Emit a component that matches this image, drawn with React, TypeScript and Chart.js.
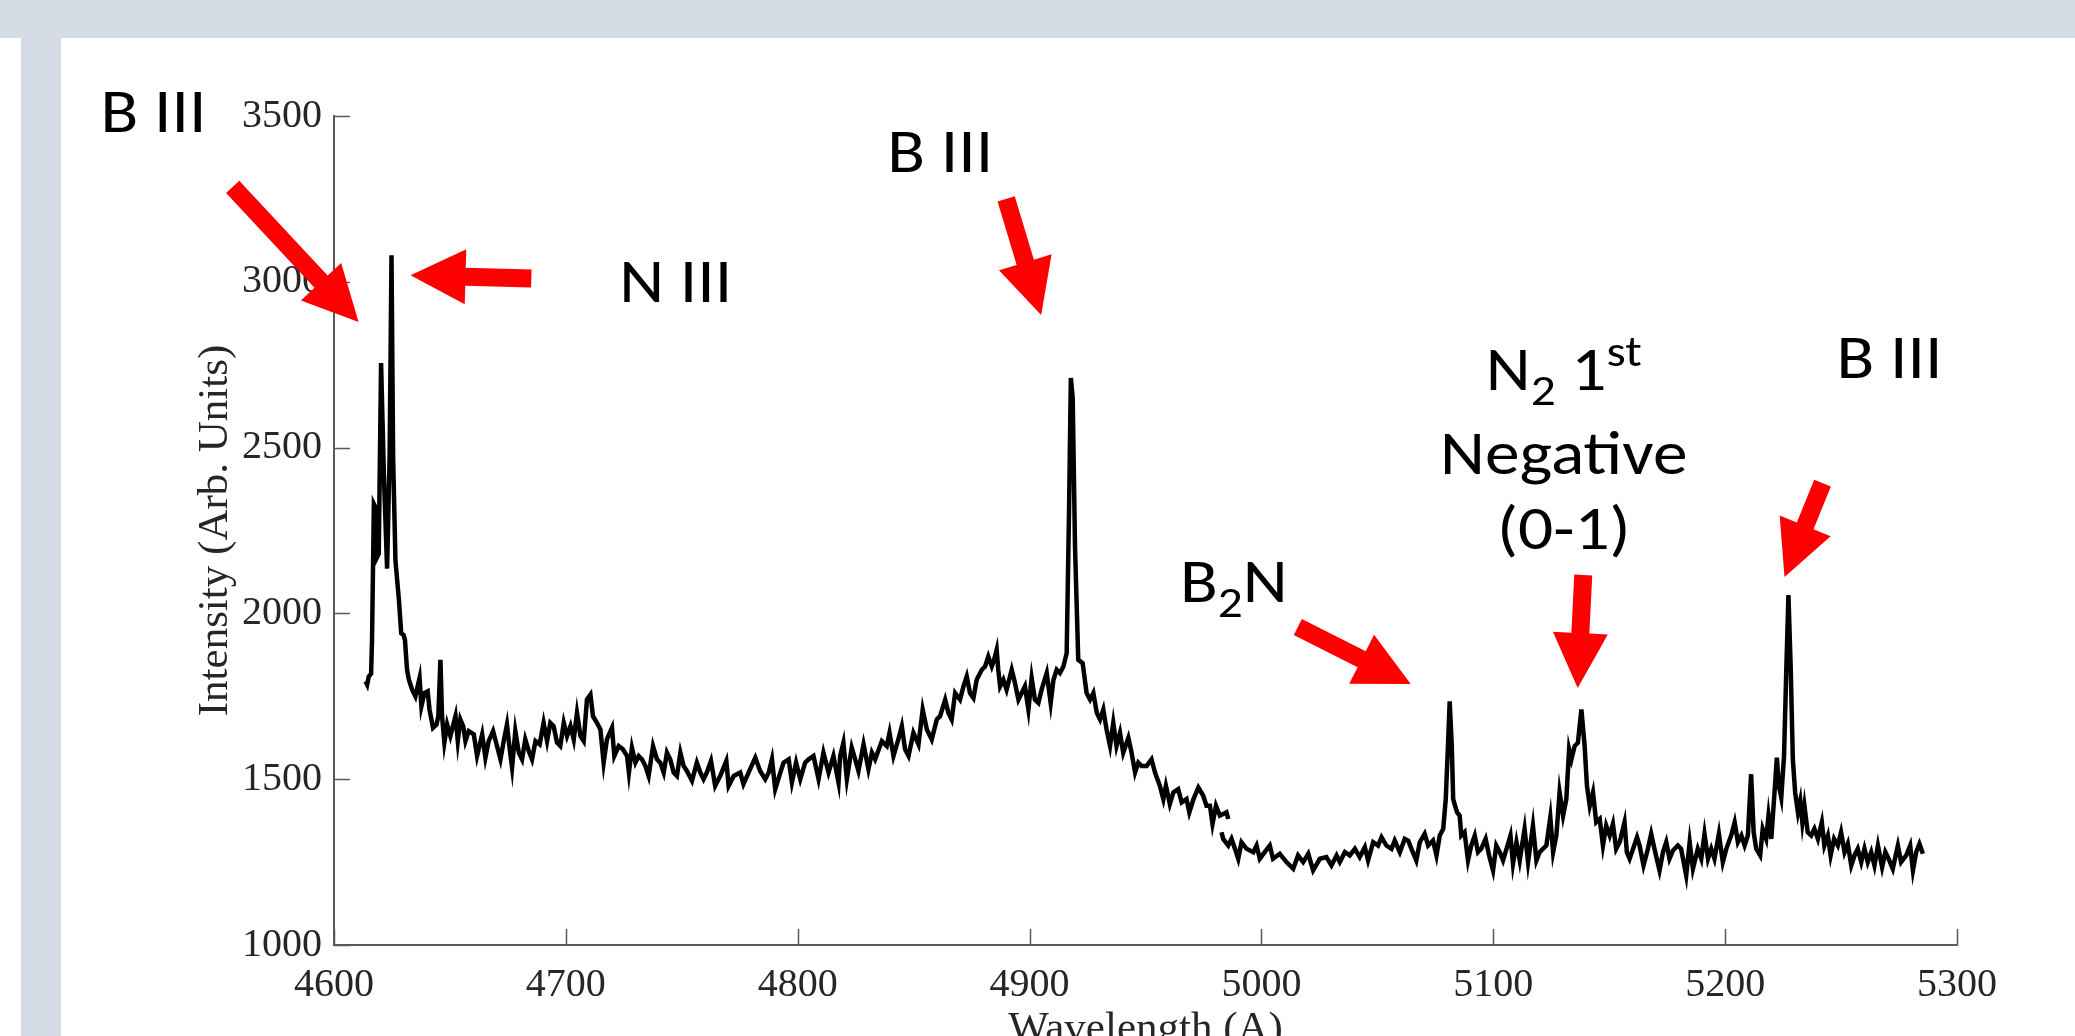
import React, { useEffect, useRef } from "react";
import { Chart, registerables } from "chart.js";

Chart.register(...registerables);

// ---------- axis ranges / ticks ----------
const X_MIN = 4600;
const X_MAX = 5300;
const X_STEP = 100;
const Y_MIN = 1000;
const Y_MAX = 3500;
const Y_STEP = 500;

const X_TITLE = "Wavelength (A)";
const Y_TITLE = "Intensity (Arb. Units)";

// ---------- spectrum, first acquisition window ----------
const seg1Wavelength = [
  4613.6, 4614.3, 4615.0, 4616.0, 4616.4, 4617.2, 4617.9, 4618.6, 4619.3, 4620.3,
  4621.5, 4622.9, 4624.0, 4624.8, 4625.5, 4626.5, 4628.0, 4629.0, 4630.0, 4630.6,
  4631.5, 4632.3, 4633.7, 4635.1, 4636.9, 4637.7, 4639.0, 4640.4, 4641.2, 4642.7,
  4644.2, 4645.0, 4645.9, 4646.6, 4647.6, 4648.8, 4650.2, 4652.4, 4653.4, 4654.5,
  4655.7, 4656.7, 4658.1, 4660.3, 4661.7, 4663.9, 4665.3, 4666.7, 4668.6, 4670.3,
  4671.8, 4673.2, 4674.6, 4675.8, 4676.8, 4678.2, 4679.7, 4681.1, 4682.5, 4684.0,
  4685.4, 4686.9, 4688.7, 4690.4, 4691.9, 4693.3, 4694.7, 4696.2, 4697.6, 4699.1,
  4700.5, 4702.0, 4703.4, 4704.8, 4706.3, 4707.7, 4709.1, 4710.6, 4711.7, 4713.4,
  4714.9, 4716.3, 4717.7, 4719.9, 4720.9, 4722.8, 4724.6, 4726.4, 4727.2, 4728.5,
  4730.0, 4731.4, 4732.8, 4734.3, 4735.7, 4737.6, 4739.3, 4740.7, 4742.2, 4743.6,
  4745.0, 4746.5, 4747.9, 4749.4, 4750.8, 4752.2, 4754.4, 4756.5, 4758.0, 4759.4,
  4760.8, 4762.6, 4764.4, 4766.6, 4769.2, 4770.2, 4772.4, 4775.2, 4776.6, 4778.8,
  4781.7, 4783.8, 4786.0, 4787.5, 4788.9, 4790.3, 4792.5, 4793.9, 4796.1, 4797.5,
  4799.3, 4801.1, 4803.2, 4804.7, 4806.8, 4809.0, 4811.1, 4813.3, 4815.4, 4817.6,
  4818.3, 4819.7, 4821.2, 4823.3, 4824.8, 4826.2, 4828.4, 4830.5, 4832.0, 4833.4,
  4836.3, 4838.4, 4839.6, 4841.3, 4843.4, 4844.9, 4846.3, 4847.8, 4849.9, 4852.1,
  4853.9, 4855.7, 4857.8, 4860.0, 4861.4, 4863.6, 4865.0, 4866.4, 4867.9, 4870.0,
  4871.5, 4872.9, 4874.3, 4875.8, 4877.2, 4879.4, 4880.8, 4882.2, 4883.7, 4884.7,
  4885.8, 4886.5, 4887.3, 4888.7, 4890.1, 4892.3, 4893.7, 4895.2, 4896.6, 4898.0,
  4899.5, 4900.9, 4902.3, 4903.8, 4905.2, 4907.4, 4909.1, 4910.3, 4911.7, 4913.1,
  4914.6, 4916.0, 4917.0, 4917.8, 4918.6, 4919.6, 4921.0, 4922.9, 4924.6, 4926.1,
  4927.5, 4929.0, 4930.4, 4931.8, 4933.2, 4934.7, 4936.1, 4937.5, 4939.0, 4940.4,
  4942.6, 4944.0, 4945.5, 4946.9, 4948.3, 4950.5, 4952.6, 4954.1, 4956.2, 4957.7,
  4958.8, 4960.5, 4962.0, 4964.1, 4965.6, 4967.7, 4968.9, 4970.7, 4972.8, 4974.9,
  4976.3, 4977.8, 4978.9, 4980.4, 4982.1, 4984.9, 4985.7,
];
const seg1Intensity = [
  1795, 1785, 1810, 1818, 1920, 2330, 2320, 2170, 2180, 2755,
  2420, 2135, 2480, 3080, 2470, 2160, 2040, 1940, 1935, 1920,
  1830, 1800, 1770, 1750, 1805, 1720, 1760, 1765, 1710, 1655,
  1665, 1690, 1860, 1690, 1610, 1665, 1630, 1690, 1615, 1680,
  1660, 1615, 1645, 1635, 1570, 1635, 1565, 1615, 1645, 1600,
  1560, 1615, 1665, 1590, 1535, 1645, 1580, 1560, 1620, 1585,
  1560, 1615, 1605, 1670, 1615, 1670, 1660, 1610, 1600, 1670,
  1630, 1660, 1620, 1700, 1630, 1615, 1740, 1755, 1690, 1670,
  1650, 1550, 1620, 1655, 1570, 1600, 1590, 1570, 1520, 1595,
  1550, 1570, 1560, 1540, 1510, 1600, 1560, 1550, 1520, 1580,
  1560, 1520, 1510, 1580, 1540, 1525, 1495, 1550, 1520, 1500,
  1520, 1555, 1480, 1510, 1555, 1480, 1510, 1520, 1485, 1520,
  1565, 1525, 1500, 1520, 1560, 1470, 1520, 1550, 1560, 1490,
  1550, 1500, 1550, 1560, 1570, 1500, 1580, 1520, 1570, 1490,
  1570, 1610, 1500, 1595, 1560, 1525, 1605, 1530, 1580, 1560,
  1615, 1600, 1640, 1570, 1620, 1660, 1590, 1570, 1640, 1605,
  1710, 1650, 1620, 1680, 1690, 1740, 1700, 1680, 1760, 1740,
  1780, 1810, 1760, 1745, 1800, 1830, 1840, 1870, 1840, 1860,
  1890, 1830, 1780, 1800, 1770, 1830, 1790, 1740, 1760, 1780,
  1710, 1805, 1740, 1730, 1770, 1820, 1730, 1800, 1830, 1820,
  1840, 1880, 2300, 2710, 2650, 2200, 1860, 1850, 1760, 1740,
  1760, 1700, 1680, 1710, 1650, 1600, 1670, 1600, 1640, 1580,
  1625, 1580, 1520, 1550, 1540, 1540, 1560, 1520, 1480, 1440,
  1480, 1425, 1460, 1470, 1430, 1440, 1400, 1440, 1475, 1450,
  1420, 1420, 1365, 1420, 1390, 1400, 1380,
];

// ---------- spectrum, second acquisition window ----------
const seg2Wavelength = [
  4982.8, 4983.5, 4985.7, 4987.1, 4988.6, 4990.0, 4991.4, 4993.6, 4996.5, 4997.9,
  4999.3, 5001.4, 5003.6, 5005.0, 5007.9, 5010.8, 5013.7, 5015.8, 5018.0, 5020.2,
  5022.3, 5025.2, 5028.0, 5030.2, 5032.4, 5033.8, 5036.0, 5038.1, 5040.3, 5042.4,
  5044.6, 5046.0, 5048.2, 5050.3, 5051.8, 5053.9, 5056.1, 5057.5, 5059.7, 5061.8,
  5063.3, 5064.7, 5066.8, 5068.3, 5070.4, 5071.9, 5074.0, 5075.5, 5076.9, 5078.4,
  5079.5, 5080.5, 5081.2, 5082.1, 5082.7, 5083.5, 5084.4, 5085.5, 5086.2, 5087.6,
  5089.1, 5090.5, 5092.0, 5093.4, 5094.8, 5096.7, 5098.2, 5099.9, 5101.3, 5102.8,
  5104.2, 5105.7, 5107.4, 5108.5, 5110.0, 5111.4, 5113.5, 5115.0, 5117.1, 5118.6,
  5120.0, 5121.4, 5122.9, 5124.6, 5125.8, 5127.2, 5128.6, 5130.1, 5131.5, 5132.7,
  5133.7, 5135.1, 5136.5, 5138.0, 5139.4, 5140.4, 5141.6, 5143.0, 5144.4, 5145.9,
  5147.3, 5148.7, 5150.2, 5151.6, 5153.0, 5154.5, 5156.6, 5157.6, 5158.8, 5160.3,
  5162.0, 5163.1, 5164.8, 5166.7, 5168.1, 5169.5, 5171.7, 5173.2, 5174.6, 5176.0,
  5177.5, 5179.6, 5181.0, 5183.2, 5184.7, 5186.1, 5188.2, 5189.7, 5191.1, 5192.6,
  5194.0, 5195.4, 5197.3, 5199.0, 5200.5, 5202.6, 5204.1, 5205.5, 5207.0, 5208.4,
  5209.8, 5211.2, 5212.3, 5213.4, 5215.1, 5216.2, 5217.7, 5218.7, 5219.9, 5221.3,
  5222.3, 5223.2, 5224.2, 5225.4, 5226.3, 5227.3, 5228.3, 5229.2, 5230.2, 5231.4,
  5232.4, 5233.3, 5234.2, 5235.6, 5237.1, 5238.5, 5240.0, 5241.7, 5242.8, 5244.3,
  5245.5, 5247.0, 5248.6, 5250.0, 5251.5, 5252.9, 5254.4, 5255.8, 5257.2, 5258.7,
  5260.1, 5261.5, 5263.0, 5264.4, 5265.9, 5267.7, 5269.1, 5270.5, 5272.3, 5274.5,
  5275.9, 5278.1, 5279.8, 5281.0, 5282.4, 5283.8, 5285.3,
];
const seg2Intensity = [
  1340, 1320, 1300, 1320, 1290, 1260, 1310, 1290, 1280, 1300,
  1260, 1280, 1300, 1260, 1275, 1250, 1230, 1270, 1250, 1275,
  1225, 1260, 1265, 1240, 1270, 1250, 1280, 1270, 1290, 1265,
  1295, 1255, 1310, 1300, 1325, 1300, 1290, 1315, 1280, 1320,
  1315, 1290, 1255, 1310, 1335, 1300, 1315, 1270, 1330, 1350,
  1440, 1610, 1735, 1600, 1440, 1420, 1400, 1390, 1330, 1340,
  1255, 1300, 1330, 1280, 1290, 1320, 1270, 1225, 1300, 1280,
  1255, 1290, 1330, 1245, 1310, 1255, 1350, 1250, 1360, 1255,
  1280, 1290, 1300, 1385, 1280, 1330, 1460, 1390, 1440, 1590,
  1560, 1600, 1610, 1710, 1600, 1480, 1420, 1460, 1370, 1380,
  1300, 1360, 1330, 1365, 1290, 1310, 1370, 1280, 1260, 1290,
  1325, 1300, 1240, 1290, 1335, 1290, 1225, 1280, 1310, 1260,
  1285, 1300, 1290, 1210, 1310, 1230, 1290, 1260, 1335, 1260,
  1290, 1260, 1335, 1250, 1290, 1330, 1370, 1310, 1330, 1300,
  1330, 1515, 1340, 1290, 1270, 1350, 1320, 1390, 1320, 1460,
  1565, 1480, 1445, 1570, 1810, 2055, 1830, 1560, 1460, 1400,
  1435, 1370, 1420, 1340, 1330, 1350, 1320, 1370, 1300, 1330,
  1270, 1320, 1300, 1340, 1280, 1305, 1240, 1270, 1290, 1250,
  1290, 1250, 1280, 1240, 1300, 1235, 1280, 1260, 1230, 1300,
  1250, 1270, 1300, 1225, 1280, 1305, 1275,
];

// ---------- annotations (anchored in data coordinates) ----------
type Run = { t: string; sub?: boolean; sup?: boolean };
const labelRuns: Run[][] = [
  [{ t: "B III" }],
  [{ t: "N III" }],
  [{ t: "B III" }],
  [{ t: "B" }, { t: "2", sub: true }, { t: "N" }],
  [{ t: "N" }, { t: "2", sub: true }, { t: " 1" }, { t: "st", sup: true }],
  [{ t: "Negative" }],
  [{ t: "(0-1)" }],
  [{ t: "B III" }],
];
const labelX = [4499.3, 4723.0, 4838.6, 4964.9, 5130.4, 5130.4, 5130.4, 5248.0];
const labelY = [3452, 2939, 3331, 2034, 2674, 2420, 2194, 2710];
const labelAlign = ["left", "left", "left", "left", "center", "center", "center", "left"];

const arrowTailX = [4556.3, 4685.1, 4889.9, 5015.7, 5138.8, 5242.0];
const arrowTailY = [3286, 3010, 3250, 1959, 2116, 2393];
const arrowTipX = [4610.6, 4633.0, 4905.0, 5064.4, 5136.4, 5225.6];
const arrowTipY = [2879, 3020, 2900, 1787, 1775, 2110];

// ---------- styles ----------
const W = 2075;
const H = 1036;
const BAND = "#d5dce5";
const TEXT = "#262626";
const AXIS = "#5a5a5a";
const SERIF = "'Liberation Serif', 'Times New Roman', serif";
const SANS = "Carlito, Lato, 'Open Sans', sans-serif";
const MAIN_SIZE = 62;
const SMALL_SIZE = 44;
const STRETCH = 1.12;

const toPoints = (xs: number[], ys: number[]) => xs.map((x, i) => ({ x, y: ys[i] }));

const decorPlugin = {
  id: "decor",
  beforeDraw(chart: any) {
    const ctx = chart.ctx;
    ctx.save();
    ctx.fillStyle = "#ffffff";
    ctx.fillRect(0, 0, W, H);
    ctx.fillStyle = BAND;
    ctx.fillRect(0, 0, W, 38);
    ctx.fillRect(21, 38, 40, H - 38);
    ctx.restore();
  },
  afterDraw(chart: any) {
    const ctx = chart.ctx;
    const xs = chart.scales.x;
    const ys = chart.scales.y;
    const area = chart.chartArea;
    ctx.save();

    // inward tick marks
    ctx.strokeStyle = AXIS;
    ctx.lineWidth = 1.5;
    ctx.beginPath();
    xs.ticks.forEach((t: any) => {
      const p = Math.round(xs.getPixelForValue(t.value)) + 0.5;
      ctx.moveTo(p, area.bottom);
      ctx.lineTo(p, area.bottom - 16);
    });
    ys.ticks.forEach((t: any) => {
      const p = Math.round(ys.getPixelForValue(t.value)) + 0.5;
      ctx.moveTo(area.left, p);
      ctx.lineTo(area.left + 16, p);
    });
    ctx.stroke();

    // axis titles
    ctx.fillStyle = TEXT;
    ctx.font = `43px ${SERIF}`;
    ctx.textAlign = "center";
    ctx.textBaseline = "alphabetic";
    ctx.fillText(X_TITLE, (area.left + area.right) / 2, 1041);
    ctx.save();
    ctx.translate(216, (area.top + area.bottom) / 2);
    ctx.rotate(-Math.PI / 2);
    ctx.textBaseline = "middle";
    ctx.fillText(Y_TITLE, 0, 0);
    ctx.restore();

    // annotation labels
    ctx.fillStyle = "#000000";
    ctx.textAlign = "left";
    ctx.textBaseline = "alphabetic";
    labelRuns.forEach((runs, i) => {
      const px = xs.getPixelForValue(labelX[i]);
      const py = ys.getPixelForValue(labelY[i]);
      const widths = runs.map((r) => {
        ctx.font = `${r.sub || r.sup ? SMALL_SIZE : MAIN_SIZE}px ${SANS}`;
        return ctx.measureText(r.t).width * STRETCH;
      });
      const total = widths.reduce((a, b) => a + b, 0);
      let cx = labelAlign[i] === "center" ? px - total / 2 : px;
      runs.forEach((r, j) => {
        ctx.font = `${r.sub || r.sup ? SMALL_SIZE : MAIN_SIZE}px ${SANS}`;
        const dy = r.sub ? 15 : r.sup ? -24 : 0;
        ctx.save();
        ctx.translate(cx, py + dy);
        ctx.scale(STRETCH, 1);
        ctx.fillText(r.t, 0, 0);
        ctx.restore();
        cx += widths[j];
      });
    });

    // block arrows
    ctx.fillStyle = "#ff0000";
    const shaft = 18;
    const headLen = 55;
    const headW = 55;
    arrowTailX.forEach((_, i) => {
      const tx = xs.getPixelForValue(arrowTailX[i]);
      const ty = ys.getPixelForValue(arrowTailY[i]);
      const hx = xs.getPixelForValue(arrowTipX[i]);
      const hy = ys.getPixelForValue(arrowTipY[i]);
      const len = Math.hypot(hx - tx, hy - ty);
      const dx = (hx - tx) / len;
      const dy = (hy - ty) / len;
      const nx = -dy;
      const ny = dx;
      const bx = hx - dx * headLen;
      const by = hy - dy * headLen;
      ctx.beginPath();
      ctx.moveTo(tx + (nx * shaft) / 2, ty + (ny * shaft) / 2);
      ctx.lineTo(bx + (nx * shaft) / 2, by + (ny * shaft) / 2);
      ctx.lineTo(bx + (nx * headW) / 2, by + (ny * headW) / 2);
      ctx.lineTo(hx, hy);
      ctx.lineTo(bx - (nx * headW) / 2, by - (ny * headW) / 2);
      ctx.lineTo(bx - (nx * shaft) / 2, by - (ny * shaft) / 2);
      ctx.lineTo(tx - (nx * shaft) / 2, ty - (ny * shaft) / 2);
      ctx.closePath();
      ctx.fill();
    });

    ctx.restore();
  },
};

export default function App() {
  const canvasRef = useRef<HTMLCanvasElement | null>(null);

  useEffect(() => {
    if (!canvasRef.current) return;
    const lineStyle = {
      borderColor: "#000000",
      borderWidth: 4.5,
      pointRadius: 0,
      tension: 0,
      fill: false,
    };
    const chart = new Chart(canvasRef.current, {
      type: "line",
      data: {
        datasets: [
          { label: "Spectrum A", data: toPoints(seg1Wavelength, seg1Intensity), ...lineStyle },
          { label: "Spectrum B", data: toPoints(seg2Wavelength, seg2Intensity), ...lineStyle },
        ],
      },
      options: {
        animation: false,
        responsive: false,
        devicePixelRatio: 1,
        layout: { padding: { top: 116, right: 118, left: 0, bottom: 0 } },
        plugins: { legend: { display: false }, tooltip: { enabled: false } },
        scales: {
          x: {
            type: "linear",
            min: X_MIN,
            max: X_MAX,
            grid: { display: false, drawTicks: false },
            border: { display: true, color: AXIS, width: 2 },
            ticks: {
              stepSize: X_STEP,
              color: TEXT,
              padding: 16,
              maxRotation: 0,
              font: { family: SERIF, size: 40 },
              callback: (v: any) => String(v),
            },
            afterFit: (s: any) => {
              s.height = 91;
            },
          },
          y: {
            type: "linear",
            min: Y_MIN,
            max: Y_MAX,
            grid: { display: false, drawTicks: false },
            border: { display: true, color: AXIS, width: 2 },
            ticks: {
              stepSize: Y_STEP,
              color: TEXT,
              padding: 12,
              font: { family: SERIF, size: 40 },
              callback: (v: any) => String(v),
            },
            afterFit: (s: any) => {
              s.width = 334;
            },
          },
        },
      } as any,
      plugins: [decorPlugin],
    });
    return () => chart.destroy();
  }, []);

  return (
    <div style={{ position: "absolute", left: 0, top: 0, width: W, height: H, overflow: "hidden" }}>
      <canvas ref={canvasRef} width={W} height={H} style={{ display: "block", width: W, height: H }} />
    </div>
  );
}
